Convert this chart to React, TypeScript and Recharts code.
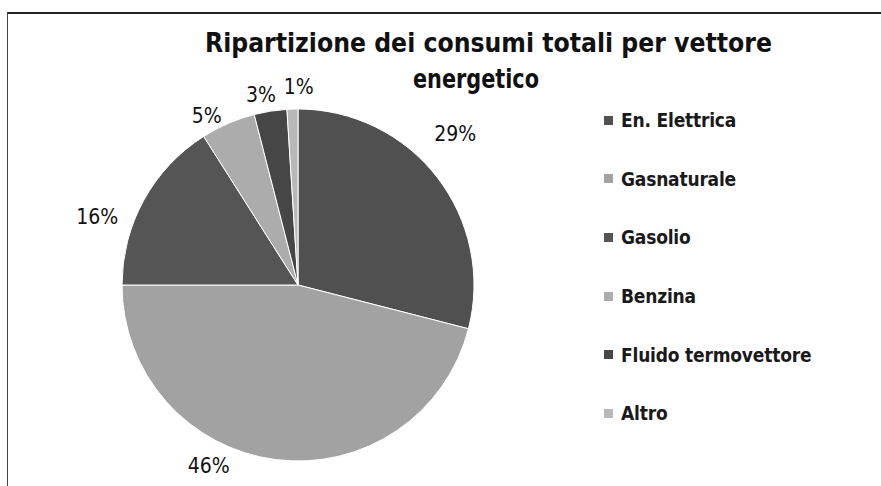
import React from "react";
import { PieChart, Pie, Cell, Legend } from "recharts";

const categories = ["En. Elettrica", "Gas naturale", "Gasolio", "Benzina", "Fluido termovettore", "Altro"];
const legendLabels = ["En. Elettrica", "Gasnaturale", "Gasolio", "Benzina", "Fluido termovettore", "Altro"];
const shares = [29, 46, 16, 5, 3, 1];
const titleLines = ["Ripartizione dei consumi totali per vettore", "energetico"];

const colors = ["#505050", "#a2a2a2", "#555555", "#acacac", "#464646", "#b8b8b8"];
// label placement tweaks (Excel "best fit" style)
const labelTweak: Record<string, { da: number; dr: number }> = {
  "En. Elettrica": { da: 6, dr: 20 },
  "Gas naturale": { da: -19, dr: 4 },
  Gasolio: { da: 10, dr: 14 },
  Benzina: { da: 5, dr: -6 },
  "Fluido termovettore": { da: 2, dr: -4 },
  Altro: { da: -2, dr: 0 },
};

const data = categories.map((name, i) => ({ name, value: shares[i], legend: legendLabels[i] }));

const RAD = Math.PI / 180;
const FONT = "'Liberation Sans Narrow', 'DejaVu Sans Condensed', 'Liberation Sans', sans-serif";

const renderLabel = (props: any) => {
  const { cx, cy, midAngle, outerRadius, percent, name } = props;
  const t = labelTweak[name] || { da: 0, dr: 0 };
  const a = (midAngle + t.da) * RAD;
  const r = outerRadius + 22 + t.dr;
  const x = cx + r * Math.cos(a);
  const y = cy - r * Math.sin(a);
  return (
    <text x={x} y={y} textAnchor="middle" dominantBaseline="central" fill="#111" fontSize={21} fontFamily={FONT}>
      {`${Math.round(percent * 100)}%`}
    </text>
  );
};

const LegendContent = () => (
  <div style={{ fontFamily: FONT }}>
    {data.map((d, i) => (
      <div key={d.name} style={{ display: "flex", alignItems: "center", height: 58.6 }}>
        <span style={{ display: "inline-block", width: 9, height: 9, background: colors[i], marginRight: 8 }} />
        <span style={{ fontSize: 19, fontWeight: "bold", color: "#1a1a1a", letterSpacing: -0.2 }}>{d.legend}</span>
      </div>
    ))}
  </div>
);

export default function App() {
  return (
    <div style={{ position: "absolute", left: 0, top: 0, width: 881, height: 486, background: "#fff", overflow: "hidden" }}>
      <div style={{ position: "absolute", left: 7, top: 12, width: 874, height: 1.5, background: "#222" }} />
      <div style={{ position: "absolute", left: 7, top: 12, width: 1, height: 474, background: "#444" }} />
      <svg width={881} height={120} style={{ position: "absolute", left: 0, top: 0 }}>
        <text x={205} y={52} textLength={567} lengthAdjust="spacingAndGlyphs" fontSize={27} fontWeight="bold" fontFamily={FONT} fill="#111">
          {titleLines[0]}
        </text>
        <text x={413} y={88} textLength={126} lengthAdjust="spacingAndGlyphs" fontSize={27} fontWeight="bold" fontFamily={FONT} fill="#111">
          {titleLines[1]}
        </text>
      </svg>
      <div style={{ position: "absolute", left: 0, top: 0 }}>
        <PieChart width={881} height={486} margin={{ top: 0, right: 0, bottom: 0, left: 0 }}>
          <Pie
            data={data}
            dataKey="value"
            nameKey="name"
            cx={298}
            cy={285}
            outerRadius={176}
            startAngle={90}
            endAngle={-270}
            stroke="#ffffff"
            strokeWidth={1}
            label={renderLabel}
            labelLine={false}
            isAnimationActive={false}
          >
            {data.map((d, i) => (
              <Cell key={d.name} fill={colors[i]} />
            ))}
          </Pie>
          <Legend
            layout="vertical"
            content={<LegendContent />}
            wrapperStyle={{ position: "absolute", left: 604, top: 91, width: 260 }}
          />
        </PieChart>
      </div>
    </div>
  );
}
